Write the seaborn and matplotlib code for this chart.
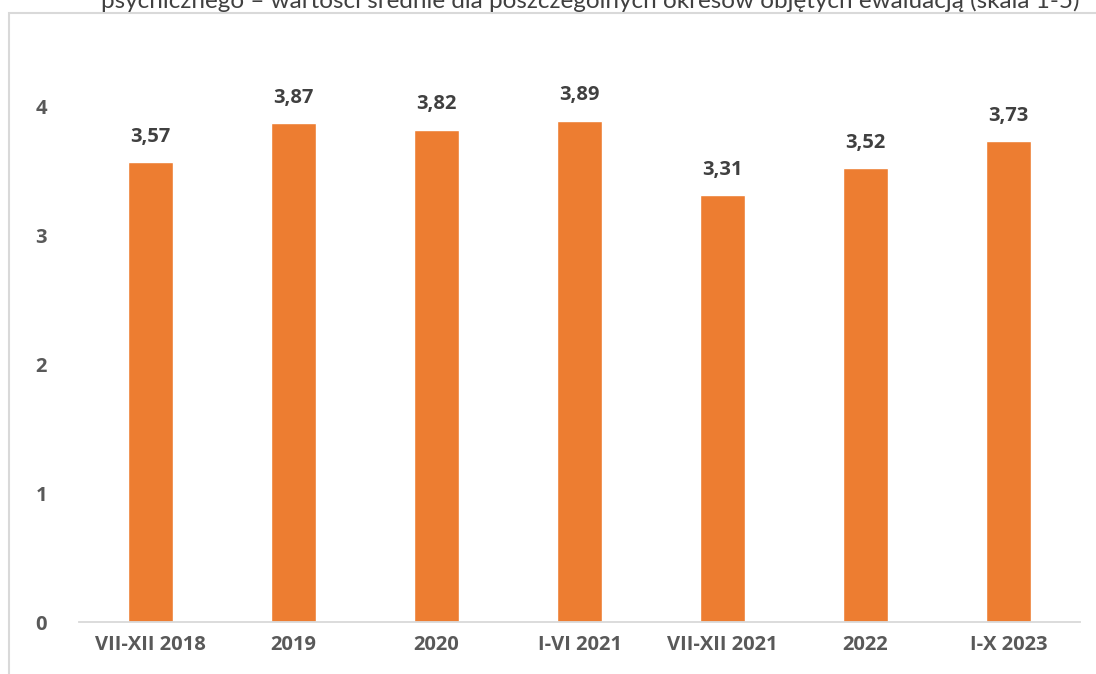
import matplotlib
matplotlib.use("Agg")
import matplotlib.pyplot as plt
import seaborn as sns
import pandas as pd
from matplotlib.patches import Rectangle

periods = ["VII-XII 2018", "2019", "2020", "I-VI 2021", "VII-XII 2021", "2022", "I-X 2023"]
means = [3.57, 3.87, 3.82, 3.89, 3.31, 3.52, 3.73]
yticks = [0, 1, 2, 3, 4]

df = pd.DataFrame({"okres": periods, "srednia": means})

sns.set_theme(style="white")
plt.rcParams["font.family"] = ["Open Sans", "DejaVu Sans"]

fig = plt.figure(figsize=(10.96, 6.74), dpi=100)
ax = fig.add_axes([79 / 1096, 52 / 674, 1001 / 1096, 580 / 674])

sns.barplot(data=df, x="okres", y="srednia", color="#ED7D31", saturation=1,
            width=0.31, ax=ax)

ax.set_ylim(0, 4.5)
ax.set_xlim(-0.5, len(periods) - 0.5)
ax.set_yticks(yticks)
ax.set_yticklabels([str(t) for t in yticks])
ax.set_xlabel("")
ax.set_ylabel("")

for side in ["top", "right", "left"]:
    ax.spines[side].set_visible(False)
ax.spines["bottom"].set_color("#D9D9D9")
ax.spines["bottom"].set_linewidth(1.3)

ax.tick_params(axis="both", length=0, labelsize=14.5, labelcolor="#595959")
ax.tick_params(axis="y", pad=23)
ax.tick_params(axis="x", pad=9)
for lbl in ax.get_xticklabels() + ax.get_yticklabels():
    lbl.set_fontweight("bold")

for i, v in enumerate(means):
    ax.annotate(f"{v:.2f}".replace(".", ","), xy=(i, v), xytext=(0, 11),
                textcoords="offset points", ha="center", va="bottom",
                fontsize=14.5, fontweight="bold", color="#404040")

# chart frame
fig.patches.append(Rectangle((9 / 1096, -0.05), 1.2, (674 - 13) / 674 + 0.05,
                             transform=fig.transFigure, fill=False,
                             edgecolor="#D9D9D9", linewidth=1.5))

fig.text(590 / 1096, 1.0 - 8 / 674,
         "psychicznego – wartości średnie dla poszczególnych okresów objętych ewaluacją (skala 1-5)",
         ha="center", va="baseline", fontsize=17.5, color="#404040",
         family=["Lato", "DejaVu Sans"])

fig.savefig("out.png", dpi=100)
